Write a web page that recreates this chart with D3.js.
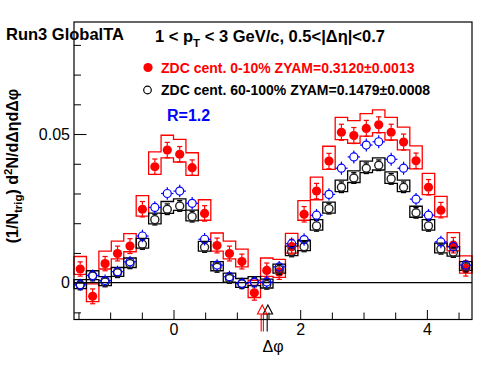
<!DOCTYPE html>
<html>
<head>
<meta charset="utf-8">
<script src="https://cdn.jsdelivr.net/npm/d3@7"></script>
<style>
  body { margin: 0; background: #fff; }
  svg { display: block; }
  text { font-family: "Liberation Sans", Arial, Helvetica, sans-serif; }
</style>
</head>
<body>
<svg width="496" height="372"></svg>
<script>
// delta-phi binning: 32 bins from -pi/2 to 3pi/2
var phiLo = -Math.PI / 2, phiHi = 3 * Math.PI / 2, binW = Math.PI / 16;
var phi = d3.range(32).map(function(i) { return phiLo + (i + 0.5) * binW; });

// ZDC cent. 0-10% (red)
var central = [0.0046, -0.0046, 0.0064, 0.0098, 0.0123, 0.0247, 0.0390, 0.0446,
               0.0432, 0.0387, 0.0233, 0.0125, 0.0098, 0.0071, -0.0034, 0.0041,
               0.0036, 0.0121, 0.0230, 0.0308, 0.0409, 0.0506, 0.0495, 0.0519,
               0.0531, 0.0506, 0.0473, 0.0410, 0.0321, 0.0244, 0.0126, 0.0048];
var centralStat = [0.0024, 0.0025, 0.0024, 0.0025, 0.0025, 0.0026, 0.0026, 0.0026,
                   0.0026, 0.0026, 0.0026, 0.0025, 0.0025, 0.0025, 0.0025, 0.0025,
                   0.0025, 0.0025, 0.0026, 0.0026, 0.0026, 0.0027, 0.0027, 0.0027,
                   0.0027, 0.0027, 0.0027, 0.0026, 0.0026, 0.0026, 0.0026, 0.0026];
var centralSysUp = [0.0042, 0.0042, 0.0042, 0.0042, 0.0042, 0.0046, 0.0050, 0.0050,
                    0.0050, 0.0050, 0.0046, 0.0042, 0.0042, 0.0042, 0.0042, 0.0042,
                    0.0042, 0.0045, 0.0046, 0.0047, 0.0050, 0.0050, 0.0050, 0.0050,
                    0.0050, 0.0050, 0.0050, 0.0050, 0.0047, 0.0046, 0.0042, 0.0042];
var centralSysDn = [0.0018, 0.0018, 0.0018, 0.0018, 0.0019, 0.0023, 0.0026, 0.0026,
                    0.0026, 0.0026, 0.0023, 0.0019, 0.0018, 0.0018, 0.0016, 0.0020,
                    0.0018, 0.0022, 0.0020, 0.0029, 0.0028, 0.0025, 0.0026, 0.0026,
                    0.0026, 0.0026, 0.0026, 0.0027, 0.0025, 0.0023, 0.0019, 0.0016];

// ZDC cent. 60-100% (black)
var peripheral = [-0.0008, 0.0022, 0.0002, 0.0033, 0.0064, 0.0129, 0.0212, 0.0247,
                  0.0258, 0.0222, 0.0119, 0.0052, 0.0014, -0.0004, 0.0002, -0.0006,
                  0.0044, 0.0104, 0.0121, 0.0191, 0.0249, 0.0321, 0.0352, 0.0385,
                  0.0395, 0.0349, 0.0321, 0.0235, 0.0191, 0.0113, 0.0102, 0.0053];
var periStat = [0.0016, 0.0016, 0.0016, 0.0016, 0.0017, 0.0017, 0.0018, 0.0018,
                0.0018, 0.0018, 0.0017, 0.0017, 0.0016, 0.0016, 0.0016, 0.0016,
                0.0017, 0.0017, 0.0017, 0.0018, 0.0018, 0.0018, 0.0018, 0.0018,
                0.0018, 0.0018, 0.0018, 0.0018, 0.0018, 0.0017, 0.0017, 0.0017];
var periSysUp = [0.0018, 0.0018, 0.0018, 0.0018, 0.0019, 0.0020, 0.0022, 0.0026,
                 0.0024, 0.0022, 0.0020, 0.0019, 0.0018, 0.0018, 0.0018, 0.0018,
                 0.0018, 0.0019, 0.0020, 0.0021, 0.0022, 0.0024, 0.0024, 0.0024,
                 0.0025, 0.0024, 0.0024, 0.0022, 0.0021, 0.0020, 0.0019, 0.0018];
var periSysDn = [0.0012, 0.0012, 0.0012, 0.0012, 0.0013, 0.0013, 0.0014, 0.0014,
                 0.0015, 0.0014, 0.0013, 0.0012, 0.0012, 0.0012, 0.0012, 0.0012,
                 0.0012, 0.0013, 0.0013, 0.0014, 0.0015, 0.0015, 0.0015, 0.0015,
                 0.0016, 0.0015, 0.0015, 0.0015, 0.0014, 0.0013, 0.0013, 0.0012];

// 60-100% scaled by R=1.2 (blue)
var scaled = [-0.0007, 0.0024, 0.0007, 0.0037, 0.0070, 0.0157, 0.0253, 0.0300,
              0.0308, 0.0267, 0.0146, 0.0059, 0.0020, -0.0003, 0.0001, 0.0002,
              0.0053, 0.0131, 0.0145, 0.0227, 0.0297, 0.0385, 0.0423, 0.0463,
              0.0474, 0.0415, 0.0385, 0.0281, 0.0227, 0.0137, 0.0121, 0.0059];
var scaledStat = [0.0020, 0.0020, 0.0020, 0.0020, 0.0020, 0.0021, 0.0021, 0.0021,
                  0.0021, 0.0021, 0.0021, 0.0020, 0.0020, 0.0020, 0.0020, 0.0020,
                  0.0020, 0.0021, 0.0021, 0.0021, 0.0021, 0.0022, 0.0022, 0.0022,
                  0.0022, 0.0022, 0.0022, 0.0021, 0.0021, 0.0021, 0.0021, 0.0020];

// ZYAM minimum positions (red, black)
var zyamPhi = [1.40, 1.49];

var xMajor = [0, 2, 4];
var xMinor = [-1.5, -1, -0.5, 0.5, 1, 1.5, 2.5, 3, 3.5, 4.5];
var yMajor = [0, 0.05];
var yMinor = [-0.01, 0.01, 0.02, 0.03, 0.04, 0.06, 0.07, 0.08];

var svg = d3.select("svg");
var L = 74, R = 472, T = 22, B = 319.5;

var x = d3.scaleLinear().domain([phiLo, phiHi]).range([L, R]);
var y = d3.scaleLinear().domain([-0.0124, 0.0877]).range([B, T]);
var hw = (x(binW) - x(0)) / 2;

var red = "#ff0000", blue = "#0000ff";

// systematic boxes, drawn as the outline of their union
function boxes(vals, up, dn, col) {
  var bx = vals.map(function(d, i) {
    return { l: x(phi[i]) - hw, r: x(phi[i]) + hw, t: y(d + up[i]), b: y(d - dn[i]) };
  });
  var p = d3.path();
  function seg(x1, y1, x2, y2) { p.moveTo(x1, y1); p.lineTo(x2, y2); }
  bx.forEach(function(b, i) {
    seg(b.l, b.t, b.r, b.t);
    seg(b.l, b.b, b.r, b.b);
    if (i === 0) seg(b.l, b.t, b.l, b.b);
    if (i === bx.length - 1) { seg(b.r, b.t, b.r, b.b); return; }
    var n = bx[i + 1];
    if (Math.max(b.t, n.t) <= Math.min(b.b, n.b)) {
      seg(b.r, Math.min(b.t, n.t), b.r, Math.max(b.t, n.t));
      seg(b.r, Math.min(b.b, n.b), b.r, Math.max(b.b, n.b));
    } else {
      seg(b.r, b.t, b.r, b.b);
      seg(b.r, n.t, b.r, n.b);
    }
  });
  svg.append("path").attr("d", p.toString()).attr("fill", "none")
    .attr("stroke", col).attr("stroke-width", 1.3).attr("stroke-linecap", "square");
}
boxes(central, centralSysUp, centralSysDn, red);
boxes(peripheral, periSysUp, periSysDn, "#000");

// zero line
svg.append("line").attr("x1", L).attr("x2", R).attr("y1", y(0)).attr("y2", y(0))
  .attr("stroke", "#000").attr("stroke-width", 1.2);

// stat errors with caps, gap inside marker
function errs(vals, err, col, r, cap) {
  var g = svg.append("g").attr("stroke", col).attr("stroke-width", 1.2);
  vals.forEach(function(d, i) {
    var cx = x(phi[i]), cy = y(d), top = y(d + err[i]), bot = y(d - err[i]);
    if (cy - top > r) {
      g.append("line").attr("x1", cx).attr("x2", cx).attr("y1", top).attr("y2", cy - r);
      g.append("line").attr("x1", cx).attr("x2", cx).attr("y1", bot).attr("y2", cy + r);
    }
    if (cap) {
      g.append("line").attr("x1", cx - cap).attr("x2", cx + cap).attr("y1", top).attr("y2", top);
      g.append("line").attr("x1", cx - cap).attr("x2", cx + cap).attr("y1", bot).attr("y2", bot);
    }
  });
}

// red points
errs(central, centralStat, red, 4.4, 2.6);
svg.append("g").selectAll("circle").data(central).enter().append("circle")
  .attr("cx", function(d, i) { return x(phi[i]); })
  .attr("cy", function(d) { return y(d); })
  .attr("r", 4.6).attr("fill", red);

// black points
errs(peripheral, periStat, "#000", 4, 2.6);
svg.append("g").selectAll("circle").data(peripheral).enter().append("circle")
  .attr("cx", function(d, i) { return x(phi[i]); })
  .attr("cy", function(d) { return y(d); })
  .attr("r", 4).attr("fill", "none").attr("stroke", "#222").attr("stroke-width", 1.4);

// blue points with x error over bin width
errs(scaled, scaledStat, blue, 4, 0);
var gb = svg.append("g").attr("stroke", blue).attr("stroke-width", 1.2);
scaled.forEach(function(d, i) {
  var cx = x(phi[i]), cy = y(d);
  gb.append("line").attr("x1", cx - hw).attr("x2", cx - 4).attr("y1", cy).attr("y2", cy);
  gb.append("line").attr("x1", cx + 4).attr("x2", cx + hw).attr("y1", cy).attr("y2", cy);
});
svg.append("g").selectAll("circle").data(scaled).enter().append("circle")
  .attr("cx", function(d, i) { return x(phi[i]); })
  .attr("cy", function(d) { return y(d); })
  .attr("r", 4).attr("fill", "none").attr("stroke", blue).attr("stroke-width", 1.2);

// ZYAM arrows (black first, red on top)
[1, 0].forEach(function(k) {
  var ax = x(zyamPhi[k]), col = k === 0 ? red : "#000";
  var tip = B - 14.5, base = B - 5.5, end = B + 12;
  var g = svg.append("g").attr("stroke", col).attr("fill", "none").attr("stroke-width", 1.1);
  g.append("path").attr("d", "M" + ax + "," + tip + "L" + (ax - 4.7) + "," + base + "L" + (ax + 4.7) + "," + base + "Z");
  if (k === 0) {
    g.append("line").attr("x1", ax - 1).attr("x2", ax - 1).attr("y1", base).attr("y2", end);
    g.append("line").attr("x1", ax + 1.2).attr("x2", ax + 1.2).attr("y1", base).attr("y2", end);
  } else {
    g.append("line").attr("x1", ax - 0.7).attr("x2", ax - 0.7).attr("y1", base).attr("y2", end);
  }
});

// axes
function styleAxis(g) {
  g.select(".domain").remove();
  g.selectAll("line").attr("stroke", "#000");
  g.selectAll("text").attr("font-size", 16).attr("fill", "#000")
    .attr("font-family", "Liberation Sans, Arial, sans-serif");
}
svg.append("g").attr("transform", "translate(0," + B + ")")
  .call(d3.axisBottom(x).tickValues(xMinor).tickSize(-7).tickFormat(""))
  .call(styleAxis);
svg.append("g").attr("transform", "translate(0," + B + ")")
  .call(d3.axisBottom(x).tickValues(xMajor).tickSize(-9.5).tickPadding(4).tickFormat(d3.format("d")))
  .call(styleAxis);
svg.append("g").attr("transform", "translate(" + L + ",0)")
  .call(d3.axisLeft(y).tickValues(yMinor).tickSize(-7).tickFormat(""))
  .call(styleAxis);
svg.append("g").attr("transform", "translate(" + L + ",0)")
  .call(d3.axisLeft(y).tickValues(yMajor).tickSize(-12.5).tickPadding(4)
    .tickFormat(function(d) { return d === 0 ? "0" : d3.format(".2f")(d); }))
  .call(styleAxis);

// frame
svg.append("rect").attr("x", L).attr("y", T).attr("width", R - L).attr("height", B - T)
  .attr("fill", "none").attr("stroke", "#000").attr("stroke-width", 1.2);

// axis titles
svg.append("text").attr("x", (L + R) / 2).attr("y", 352).attr("text-anchor", "middle")
  .attr("font-size", 16).text("\u0394\u03c6");

var yt = svg.append("text").attr("transform", "translate(17.5,166) rotate(-90)")
  .attr("text-anchor", "middle").attr("font-size", 16).attr("font-weight", "bold");
yt.append("tspan").text("(1/N");
yt.append("tspan").attr("font-size", 11.5).attr("dy", 4).text("trig");
yt.append("tspan").attr("dy", -4).text(") d");
yt.append("tspan").attr("font-size", 11.5).attr("dy", -6).text("2");
yt.append("tspan").attr("dy", 6).text("N/d\u0394\u03b7d\u0394\u03c6");

// labels
svg.append("text").attr("x", 6).attr("y", 40).attr("font-size", 16.5).attr("font-weight", "bold")
  .text("Run3 GlobalTA");
var tt = svg.append("text").attr("x", 155).attr("y", 42).attr("font-size", 16.5).attr("font-weight", "bold");
tt.append("tspan").text("1 < p");
tt.append("tspan").attr("font-size", 11.5).attr("dy", 5).text("T");
tt.append("tspan").attr("dy", -5).text(" < 3 GeV/c, 0.5<|\u0394\u03b7|<0.7");

svg.append("circle").attr("cx", 148).attr("cy", 67.5).attr("r", 4.6).attr("fill", red);
svg.append("text").attr("x", 161).attr("y", 72.7).attr("font-size", 14).attr("font-weight", "bold")
  .attr("fill", red).text("ZDC cent. 0-10% ZYAM=0.3120\u00b10.0013");
svg.append("circle").attr("cx", 147.5).attr("cy", 90).attr("r", 3.8).attr("fill", "none")
  .attr("stroke", "#000").attr("stroke-width", 1.2);
svg.append("text").attr("x", 161).attr("y", 95).attr("font-size", 14).attr("font-weight", "bold")
  .text("ZDC cent. 60-100% ZYAM=0.1479\u00b10.0008");
svg.append("text").attr("x", 167).attr("y", 121).attr("font-size", 16).attr("font-weight", "bold")
  .attr("fill", blue).text("R=1.2");
</script>
</body>
</html>
